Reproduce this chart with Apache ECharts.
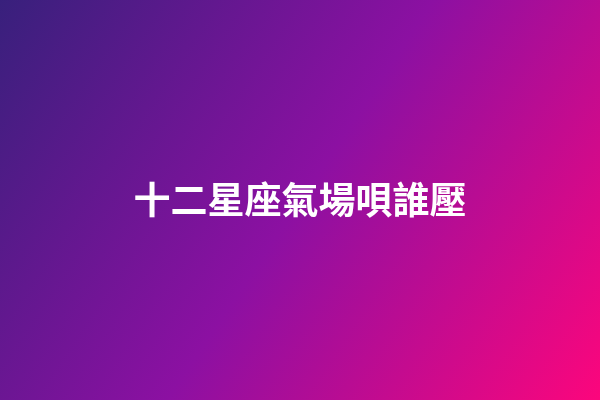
<!DOCTYPE html>
<html>
<head>
<meta charset="utf-8">
<script src="https://cdn.jsdelivr.net/npm/echarts@6/dist/echarts.min.js"></script>
<style>
html,body{margin:0;padding:0;}
#main{width:600px;height:400px;}
</style>
</head>
<body>
<div id="main"></div>
<script>
const titleText = "十二星座氣場唄誰壓";
const gradientStops = [
  { offset: 0, color: "#38207c" },
  { offset: 0.5, color: "#8c10a2" },
  { offset: 1, color: "#fc067c" }
];
const chart = echarts.init(document.getElementById('main'));
chart.setOption({
  backgroundColor: new echarts.graphic.LinearGradient(0, 0, 1, 1, gradientStops),
  title: {
    text: titleText,
    left: 'center',
    top: 'middle',
    textStyle: {
      color: '#ffffff',
      fontSize: 37,
      fontWeight: 'bold',
      fontFamily: '"Noto Sans CJK TC", "Noto Sans CJK SC", sans-serif'
    }
  }
});
</script>
</body>
</html>
